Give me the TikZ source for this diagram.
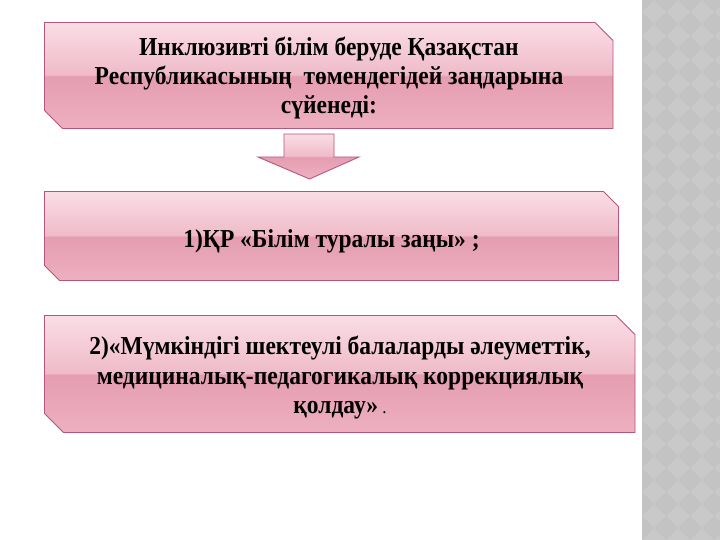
\documentclass[tikz,border=0pt]{standalone}
\usepackage{fontspec}
\setmainfont{Liberation Serif}
\definecolor{ptop}{HTML}{FADDE5}
\definecolor{pmidA}{HTML}{EFBBC9}
\definecolor{pmidB}{HTML}{E59DB1}
\definecolor{pbot}{HTML}{EDB0C0}
\definecolor{pborder}{HTML}{B5577B}
\definecolor{panelA}{HTML}{C9C9C9}
\definecolor{panelB}{HTML}{C3C3C3}
\pgfdeclareverticalshading{glossy}{100bp}{color(0bp)=(pbot); color(25bp)=(pbot); color(49.6bp)=(pmidB); color(50.4bp)=(pmidA); color(75bp)=(ptop); color(100bp)=(ptop)}
\tikzset{
  snipbox/.style={shading=glossy, draw=pborder, line width=0.9pt, line join=miter},
  boxtext/.style={font=\fontsize{23.5}{26.8}\selectfont\bfseries, align=center, text=black, inner sep=0pt, yscale=1.1, transform shape},
}
\begin{document}
\begin{tikzpicture}[x=1pt,y=-1pt]
\useasboundingbox (0,0) rectangle (720,540);
\fill[white] (0,0) rectangle (720,540);
% grey side panel
\begin{scope}
  \clip (642,0) rectangle (720,540);
  \fill[panelA] (642,0) rectangle (720,540);
  \foreach \i in {0,...,4} {
    \foreach \j in {0,...,23} {
      \fill[panelB] ({642+24*\i},{24*\j-12}) -- ++(12,12) -- ++(-12,12) -- ++(-12,-12) -- cycle;
    }
  }
\end{scope}
% box 1
\path[snipbox] (44.5,22.5) -- (595,22.5) -- (613,40.5) -- (613,128.5) -- (62.5,128.5) -- (44.5,110.5) -- cycle;
\node[boxtext] (t1) at (329,78) {Инклюзивті білім беруде Қазақстан\\Республикасының \ төмендегідей заңдарына\\сүйенеді:};
% arrow
\path[snipbox] (284,134) -- (334,134) -- (334,157) -- (359,157) -- (309.5,179) -- (258,157) -- (284,157) -- cycle;
% box 2
\path[snipbox] (44.5,191.5) -- (603.5,191.5) -- (618.5,206.5) -- (618.5,280.5) -- (59.5,280.5) -- (44.5,265.5) -- cycle;
\node[boxtext] (t2) at (331.5,241) {1)ҚР «Білім туралы заңы» ;};
% box 3
\path[snipbox] (44.5,315.5) -- (616,315.5) -- (635,334.5) -- (635,432.5) -- (63.5,432.5) -- (44.5,413.5) -- cycle;
\node[boxtext] (t3) at (340,378) {2)«Мүмкіндігі шектеулі балаларды әлеуметтік,\\медициналық-педагогикалық коррекциялық\\қолдау»{\mdseries\fontsize{17}{17}\selectfont\ .}};
\end{tikzpicture}
\end{document}
